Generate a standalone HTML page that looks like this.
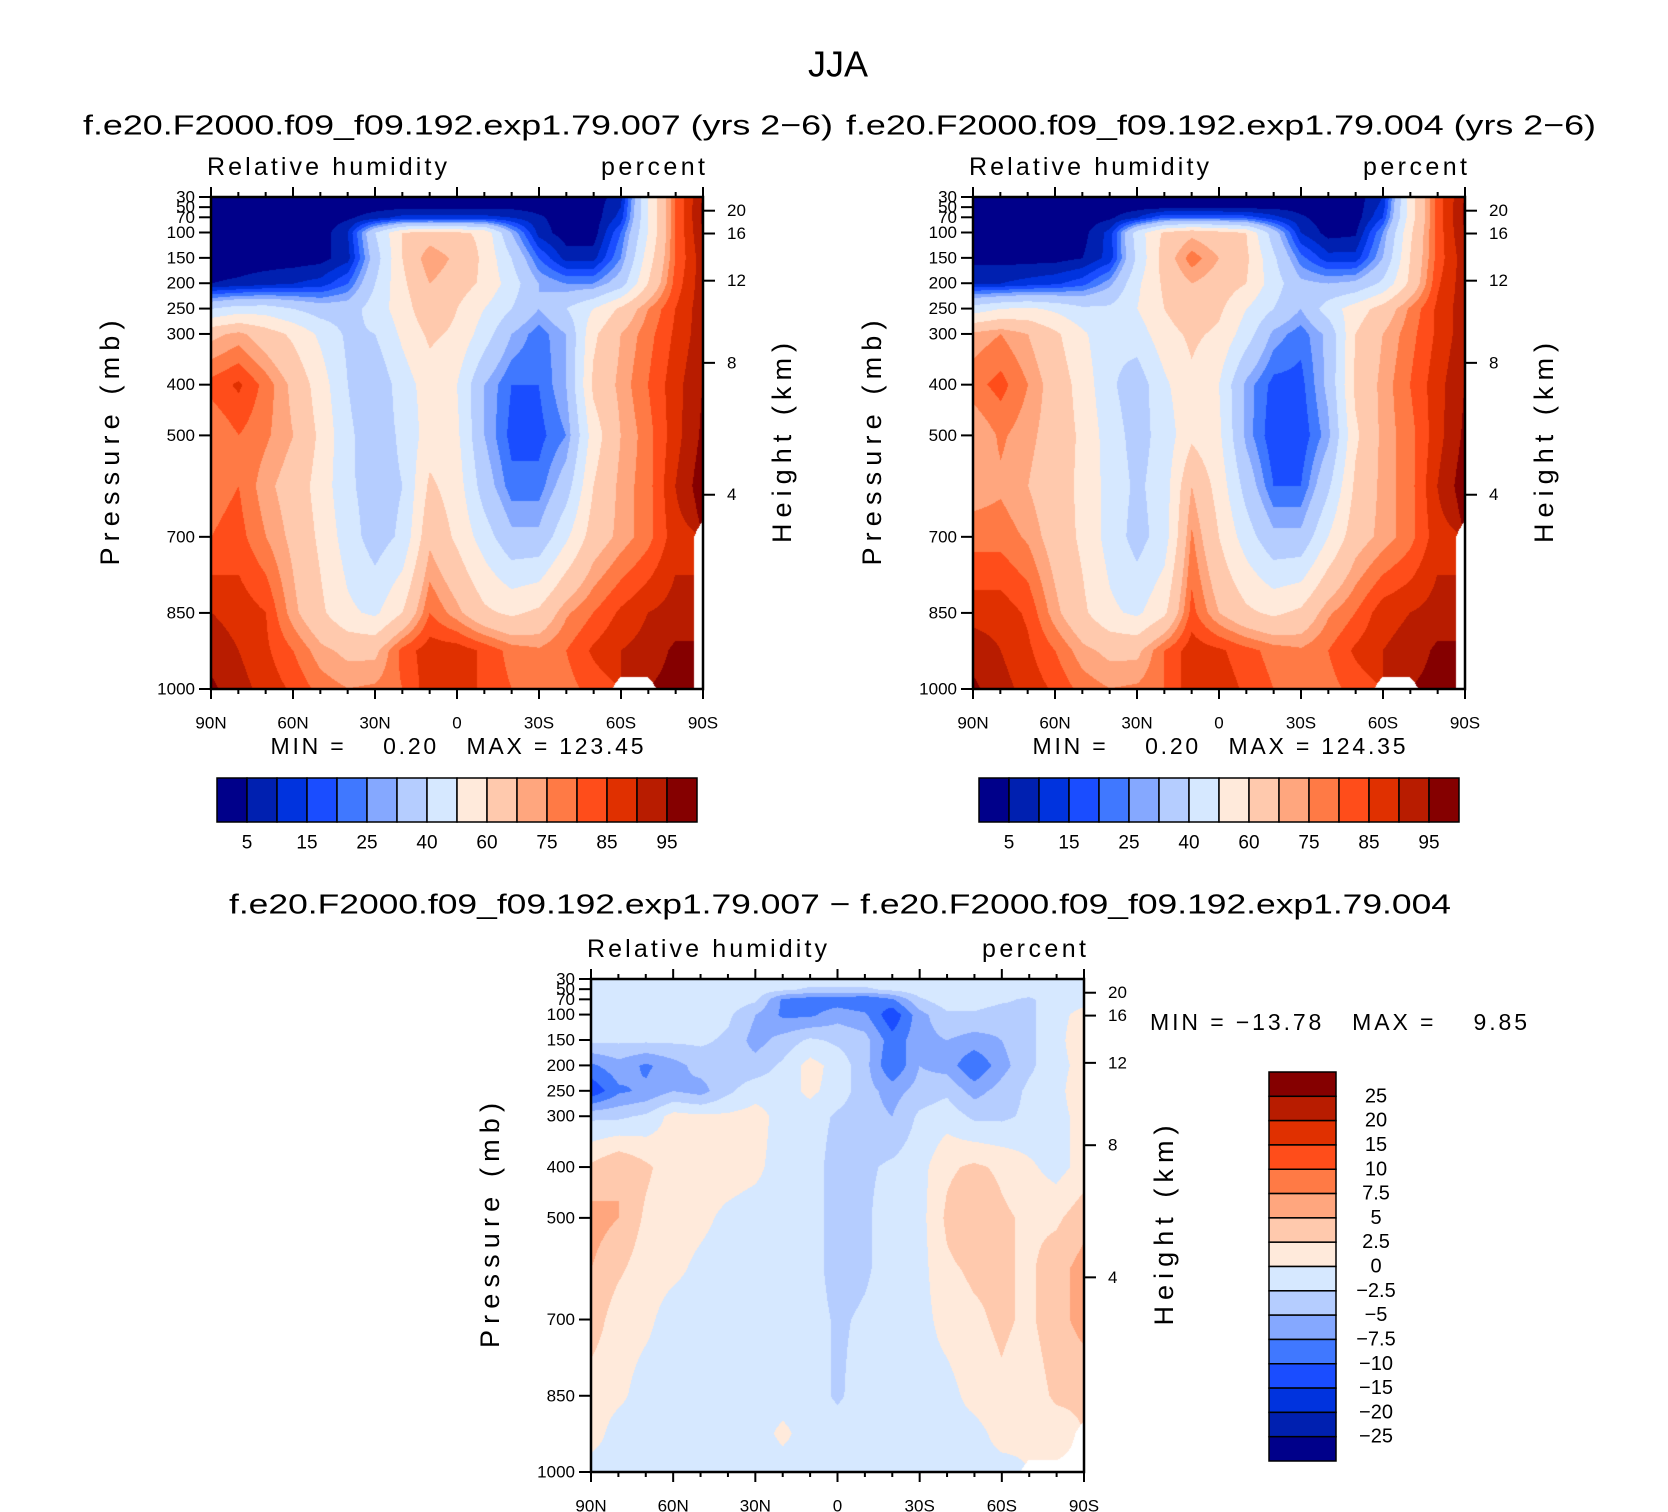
<!DOCTYPE html>
<html><head><meta charset="utf-8"><style>
html,body{margin:0;padding:0;background:#fff;}
#wrap{position:relative;width:1668px;height:1512px;overflow:hidden;font-family:"Liberation Sans",sans-serif;}
canvas{position:absolute;}
svg{position:absolute;left:0;top:0;}
</style></head><body>
<div id="wrap">
<canvas id="c1"></canvas>
<canvas id="c2"></canvas>
<canvas id="c3"></canvas>
<svg id="s" width="1668" height="1512"></svg>
</div>
<script>
const lats=[90,80,70,60,50,40,30,20,10,0,-10,-20,-30,-40,-50,-60,-70,-80,-90];
const plevs=[30,50,70,100,150,200,250,300,400,500,600,700,850,925,1000];
const N=NaN;
const rh007=[
[2,2,2,2,2,2,2,2,2,2,2,2,2,2,2,8,50,80,95],
[2,2,2,2,2,2,3,4,4,4,4,4,3,2,2,10,50,80,96],
[2,2,2,2,2,4,8,12,12,12,12,10,6,2,2,12,50,80,96],
[2,2,2,2,2,10,40,60,65,62,58,30,8,2,2,20,50,80,95],
[2,2,2,2,3,8,35,60,75,68,58,40,20,8,8,25,55,80,93],
[5,6,8,10,12,20,40,58,70,65,58,45,30,25,25,35,60,82,93],
[40,45,45,40,35,35,45,55,68,60,50,40,30,40,50,62,75,85,93],
[68,72,65,58,48,38,40,52,62,58,45,30,22,30,58,70,78,86,93],
[82,86,78,68,55,40,32,45,55,50,30,20,20,30,62,72,80,88,95],
[75,80,76,70,58,42,34,42,55,52,30,18,18,25,55,70,78,88,96],
[78,80,72,66,56,42,35,40,62,55,35,22,22,35,60,72,78,90,98],
[80,82,75,68,58,45,35,42,68,58,45,32,32,48,65,72,78,88,N],
[90,88,85,72,62,52,48,60,80,72,62,58,62,74,80,86,90,92,N],
[93,90,86,80,72,68,68,82,88,88,84,78,76,80,86,90,92,96,N],
[96,92,88,84,78,75,76,80,88,88,84,80,76,78,82,N,N,97,N]];
const rh004=[
[2,2,2,2,2,2,2,2,2,2,2,2,2,2,2,10,55,82,95],
[2,2,2,2,2,2,3,4,4,4,4,4,3,2,2,12,55,82,96],
[2,2,2,2,2,4,10,20,20,20,18,12,6,2,2,15,55,82,96],
[2,2,2,2,3,12,45,62,68,64,60,35,10,3,4,25,58,82,95],
[3,3,3,3,5,12,42,65,78,70,62,42,22,12,12,30,60,82,93],
[10,10,12,14,18,28,48,62,70,66,60,45,32,30,32,42,62,84,93],
[45,50,52,48,42,42,50,60,68,62,50,40,30,45,55,64,76,86,93],
[72,75,70,62,52,42,45,56,62,58,45,28,22,32,60,70,78,86,93],
[78,82,75,66,56,42,34,48,58,50,28,18,18,32,62,72,80,88,95],
[70,76,72,66,58,45,36,44,58,52,28,16,16,28,58,72,78,88,96],
[72,74,70,64,58,46,38,45,70,56,36,20,20,38,62,72,78,90,98],
[78,78,74,66,58,46,36,45,76,60,45,32,32,50,66,72,78,88,N],
[88,88,84,72,62,52,48,58,82,70,62,58,62,74,80,88,90,92,N],
[93,90,86,80,72,68,68,80,88,86,82,78,76,80,86,90,92,96,N],
[96,92,88,84,78,75,76,80,88,88,84,80,76,78,82,N,N,97,N]];
const rhdiff=[
[-1,-1,-1,-1,-1,-1,-1,-1,-1,-1,-1,-1,-1,-1,-1,-1,-1,-1,-1],
[-1,-1,-1,-1,-1,-1,-1,-2,-3,-3,-3,-2,-1,-1,-1,-1,-1,-1,-1],
[-1,-1,-1,-1,-1,-1,-2,-8,-9,-9,-10,-8,-3,-1,-1,-2,-3,-1,-1],
[-1,-1,-1,-1,-1,-2,-5,-8,-8,-6,-7,-12,-6,-3,-3,-4,-3,-1,1],
[-2,-2,-2,-2,-2,-3,-6,-4,-2,-3,-4,-9,-6,-5,-6,-5,-3,-1,2],
[-8,-6,-8,-6,-4,-4,-4,-2,1,-1,-4,-10,-5,-6,-10,-6,-3,-1,1],
[-12,-8,-7,-5,-6,-3,-1,-1,0.5,-1,-4,-6,-4,-3,-6,-4,-2,-1,2],
[-3,-3,-2,1,0.5,0.5,1,-1,-1,-3,-4,-5,-2,-1,-3,-3,-2,-1,1],
[3,5,3,1,1,1,0.5,-1,-1,-4,-3,-2,-1,2,3,2,0.5,-1,1],
[6,5,2,1,0.5,-0.5,-1,-1,-1,-4,-3,-1,-1,3,5,3,2,2,4],
[5,3,1,0.5,-0.5,-1,-1,-0.5,-1,-4,-3,-1,-1,2,3,3,2,4,6],
[4,1,0.5,-1,-1,-1,-1,-1,-1,-3,-2,-1,-1,1,2,3,2,4,6],
[1,0.5,-1,-1,-1,-1,-1,-1,-1,-3,-1,-1,-1,-1,1,2,1,3,3],
[1,-1,-1,-1,-1,-1,-1,0.5,-1,-1,-1,-1,-1,-1,-1,1,0.5,1,N],
[-1,-1,-1,-1,-1,-1,-1,-1,-1,-1,-1,-1,-1,-1,-1,-1,N,N,N]];
const rhLevels=[5,10,15,20,25,30,40,50,60,70,75,80,85,90,95];
const rhLabels=["5","15","25","40","60","75","85","95"];
const diffLevels=[-25,-20,-15,-10,-7.5,-5,-2.5,0,2.5,5,7.5,10,15,20,25];
const diffLabels=["25","20","15","10","7.5","5","2.5","0","\u22122.5","\u22125","\u22127.5","\u221210","\u221215","\u221220","\u221225"];
const pTicks=[30,50,70,100,150,200,250,300,400,500,700,850,1000];
const hTicks=[20,16,12,8,4];
const hTickP=[57,102,195,357,617];
const xTickLabels=["90N","60N","30N","0","30S","60S","90S"];
const palette=["#00008a","#0020b0","#0033de","#1a4dff","#4078ff","#85a8ff","#b5cdff","#d6e8ff","#ffeadb","#ffc9ad","#ffa67e","#ff7a45","#ff4d1a","#e03000","#b81c00","#850000"];

const S=document.getElementById('s');const NS="http://www.w3.org/2000/svg";
function el(t,a,txt){const e=document.createElementNS(NS,t);for(const k in a)e.setAttribute(k,a[k]);if(txt!==undefined)e.textContent=txt;S.appendChild(e);return e;}
function txt(x,y,s,size,anchor,name,extra){const e=el('text',Object.assign({x:x,y:y,'font-size':size,'text-anchor':anchor||'middle','dominant-baseline':'central',fill:'#000','font-family':'"Liberation Sans",sans-serif'},extra||{}),s);

return e;}

function drawField(id,P,grid,levels){
 const c=document.getElementById(id);c.width=P.w;c.height=P.h;c.style.left=P.x+'px';c.style.top=P.y+'px';
 const ctx=c.getContext('2d');const img=ctx.createImageData(P.w,P.h);
 const rgb=palette.map(h=>[parseInt(h.substr(1,2),16),parseInt(h.substr(3,2),16),parseInt(h.substr(5,2),16)]);
 for(let py=0;py<P.h;py++){
  const p=30+(py/(P.h-1))*970;
  let j=0;while(j<plevs.length-2&&p>plevs[j+1])j++;
  const tp=(p-plevs[j])/(plevs[j+1]-plevs[j]);
  for(let px=0;px<P.w;px++){
   const f=px/(P.w-1)*18;let i=Math.min(17,Math.floor(f));const tx=f-i;
   const a=grid[j][i],b=grid[j][i+1],cc=grid[j+1][i],d=grid[j+1][i+1];
   const k=(py*P.w+px)*4;
   let v;
   if(isNaN(a)||isNaN(b)||isNaN(cc)||isNaN(d)){
     const near=[[a,(1-tx)*(1-tp)],[b,tx*(1-tp)],[cc,(1-tx)*tp],[d,tx*tp]];
     let s=0,w=0,wn=0;near.forEach(q=>{if(!isNaN(q[0])){s+=q[0]*q[1];w+=q[1];}else wn+=q[1];});
     if(wn>0.7||w===0){img.data[k]=255;img.data[k+1]=255;img.data[k+2]=255;img.data[k+3]=255;continue;}
     v=s/w;
   } else v=(a*(1-tx)+b*tx)*(1-tp)+(cc*(1-tx)+d*tx)*tp;
   let li=0;while(li<levels.length&&v>=levels[li])li++;const col=rgb[li];
   img.data[k]=col[0];img.data[k+1]=col[1];img.data[k+2]=col[2];img.data[k+3]=255;
  }}
 ctx.putImageData(img,0,0);
}
function yOfP(P,p){return P.y+(p-30)/970*P.h;}
function axes(P,tag,pressX,heightX){
 const r=el('rect',{x:P.x,y:P.y,width:P.w,height:P.h,fill:'none',stroke:'#000','stroke-width':2.5});
 
 
 for(let d=0;d<=18;d++){const x=P.x+d/18*P.w;const L=d%3==0?10:5;
  el('line',{x1:x,y1:P.y,x2:x,y2:P.y-L,stroke:'#000','stroke-width':2});
  el('line',{x1:x,y1:P.y+P.h,x2:x,y2:P.y+P.h+L,stroke:'#000','stroke-width':2});}
 xTickLabels.forEach((s,i)=>txt(P.x+i/6*P.w,P.y+P.h+34,s,17,'middle',tag+'-x-tick-label'));
 pTicks.forEach(p=>{const y=yOfP(P,p);el('line',{x1:P.x,y1:y,x2:P.x-12,y2:y,stroke:'#000','stroke-width':2});
  txt(P.x-16,y,String(p),17,'end',tag+'-pressure-tick-label');});
 hTicks.forEach((h,i)=>{const y=yOfP(P,hTickP[i]);el('line',{x1:P.x+P.w,y1:y,x2:P.x+P.w+12,y2:y,stroke:'#000','stroke-width':2});
  txt(P.x+P.w+24,y,String(h),17,'start',tag+'-height-tick-label');});
 txt(P.x-4,P.y-30,'Relative humidity',25,'start',tag+'-variable-label',{textLength:240,lengthAdjust:'spacing'});
 txt(P.x+P.w+2,P.y-30,'percent',25,'end',tag+'-units-label',{textLength:104,lengthAdjust:'spacing'});
 const cy=P.y+P.h/2;
 txt(pressX,cy,'Pressure (mb)',27,'middle',tag+'-y-axis-title',{transform:`rotate(-90 ${pressX} ${cy})`,textLength:245,lengthAdjust:'spacing'});
 txt(heightX,cy,'Height (km)',27,'middle',tag+'-y2-axis-title',{transform:`rotate(-90 ${heightX} ${cy})`,textLength:200,lengthAdjust:'spacing'});
}
function hbar(x,y,w,h,tag){const bw=w/16;
 for(let i=0;i<16;i++){const r=el('rect',{x:x+i*bw,y:y,width:bw,height:h,fill:palette[i],stroke:'#000','stroke-width':1.5});
  
  }
 rhLabels.forEach((s,i)=>txt(x+(2*i+1)*bw,y+h+21,s,19,'middle',tag+'-colorbar-label'));}

const P1={x:211,y:197,w:492,h:492},P2={x:973,y:197,w:492,h:492},P3={x:591,y:979,w:493,h:493};
drawField('c1',P1,rh007,rhLevels);drawField('c2',P2,rh004,rhLevels);drawField('c3',P3,rhdiff,diffLevels);
txt(838,64,'JJA',36,'middle','figure-title');
txt(458,125,'f.e20.F2000.f09_f09.192.exp1.79.007 (yrs 2\u22126)',28,'middle','panel1-title',{textLength:750,lengthAdjust:'spacingAndGlyphs'});
txt(1221,125,'f.e20.F2000.f09_f09.192.exp1.79.004 (yrs 2\u22126)',28,'middle','panel2-title',{textLength:750,lengthAdjust:'spacingAndGlyphs'});
txt(840,904,'f.e20.F2000.f09_f09.192.exp1.79.007 \u2212 f.e20.F2000.f09_f09.192.exp1.79.004',28,'middle','difference-title',{textLength:1222,lengthAdjust:'spacingAndGlyphs'});
axes(P1,'panel1',110,782);axes(P2,'panel2',872,1544);axes(P3,'panel3',490,1164);
const sp='\u00a0';
txt(457,746,'MIN ='+sp+sp+sp+sp+'0.20'+sp+sp+sp+'MAX = 123.45',23,'middle','panel1-min-max',{textLength:373,lengthAdjust:'spacing'});
txt(1219,746,'MIN ='+sp+sp+sp+sp+'0.20'+sp+sp+sp+'MAX = 124.35',23,'middle','panel2-min-max',{textLength:373,lengthAdjust:'spacing'});
txt(1150,1022,'MIN = \u221213.78'+sp+sp+sp+'MAX ='+sp+sp+sp+sp+'9.85',23,'start','panel3-min-max',{textLength:377,lengthAdjust:'spacing'});
hbar(217,778,480,44,'panel1');hbar(979,778,480,44,'panel2');
(function(){const x=1269,y=1072,w=67,h=389,bh=h/16;
 for(let i=0;i<16;i++){const r=el('rect',{x:x,y:y+i*bh,width:w,height:bh,fill:palette[15-i],stroke:'#000','stroke-width':1.5});
  
  }
 diffLabels.forEach((s,i)=>txt(1376,y+(i+1)*bh,s,20,'middle','panel3-colorbar-label'));})();
</script>
</body></html>
